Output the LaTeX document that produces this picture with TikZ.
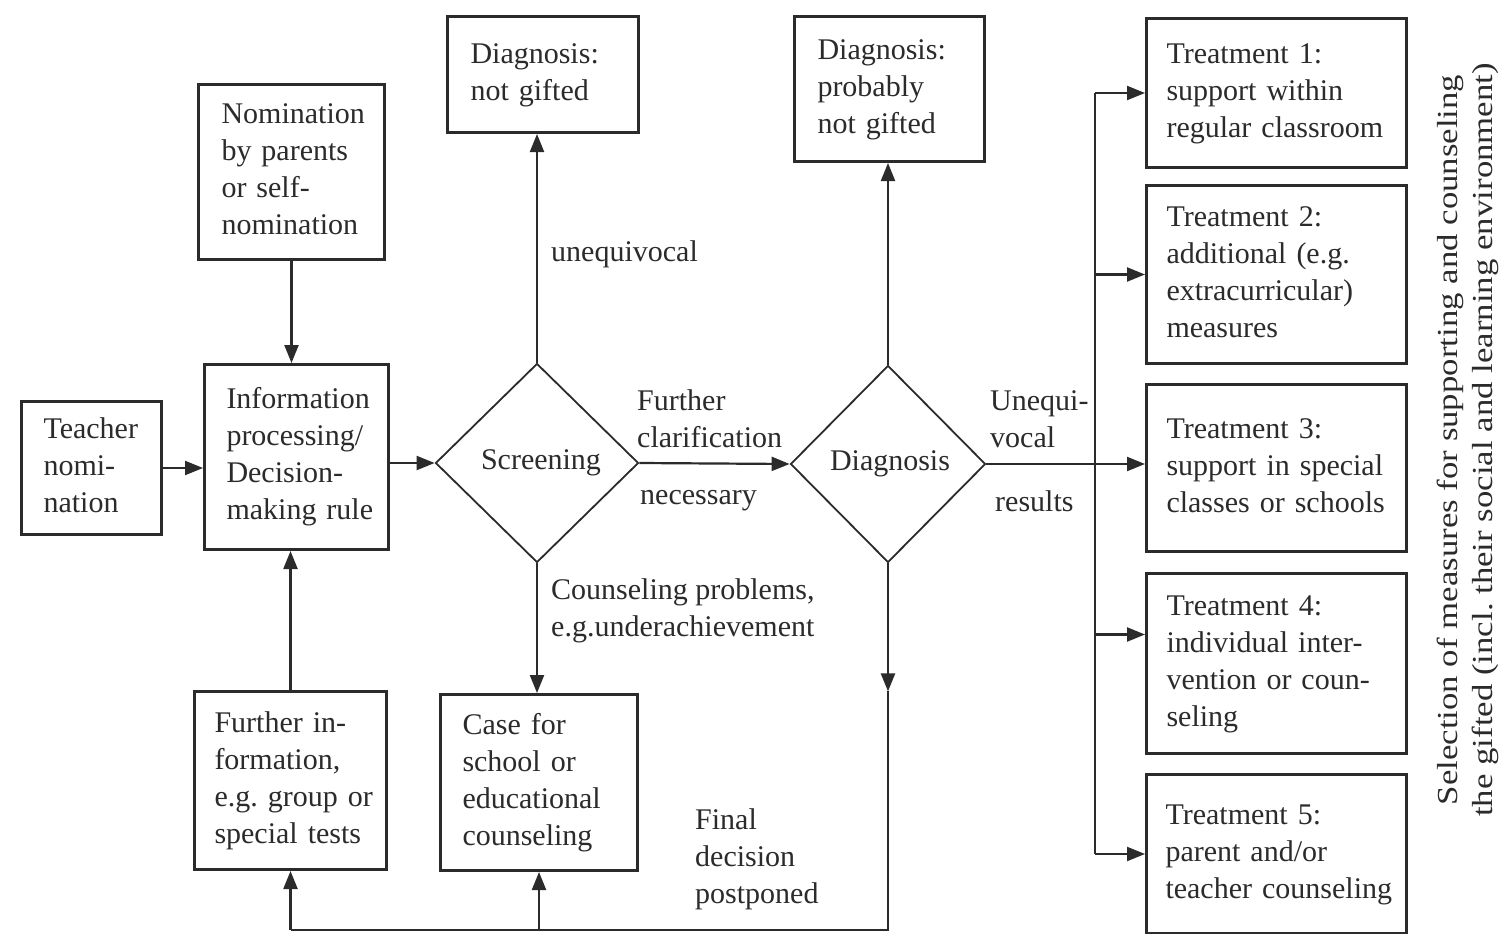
\documentclass[tikz,border=0pt]{standalone}
\usepackage{fontspec}
\setmainfont{Liberation Serif}
\usetikzlibrary{shapes.geometric,arrows.meta,calc}
\definecolor{ink}{gray}{0.17}
\newcommand\lines[1]{\begin{tabular}{@{}l@{}}#1\end{tabular}}
\frenchspacing
\begin{document}
\begin{tikzpicture}[x=1pt,y=-1pt,
  every node/.style={font=\fontsize{30}{37}\selectfont, text=ink},
  box/.style={draw=ink, line width=3pt, anchor=north west, align=left, inner xsep=0pt, inner ysep=0pt},
  dia/.style={diamond, draw=ink, line width=1.8pt, inner sep=0pt},
  lbl/.style={anchor=west, align=left, inner sep=0pt},
  ln/.style={draw=ink, line width=2.2pt, line join=miter},
  arr/.style={ln, -{Triangle[length=18pt,width=14pt]}}
]
\fill[white] (0,0) rectangle (1500,934);
\useasboundingbox (0,0) rectangle (1500,934);

% boxes
\node[box, minimum width=140pt, minimum height=133pt, text width=96pt] (teacher) at (20,400) {\lines{Teacher\\nomi-\\nation}};
\node[box, minimum width=184pt, minimum height=185pt, text width=140pt] (info) at (203,363) {\lines{Information\\processing/\\Decision-\\making rule}};
\node[box, minimum width=186pt, minimum height=175pt, text width=140pt] (nom) at (197,83) {\lines{Nomination\\by parents\\or self-\\nomination}};
\node[box, minimum width=191pt, minimum height=116pt, text width=145pt] (diag1) at (446,15) {\lines{Diagnosis:\\not gifted}};
\node[box, minimum width=190pt, minimum height=145pt, text width=144pt] (diag2) at (793,15) {\lines{Diagnosis:\\probably\\not gifted}};
\node[box, minimum width=192pt, minimum height=178pt, text width=152pt] (further) at (193,690) {\lines{Further in-\\formation,\\e.g.\ group or\\special tests}};
\node[box, minimum width=197pt, minimum height=176pt, text width=153pt] (case) at (439,693) {\lines{Case for\\school or\\educational\\counseling}};

\node[box, minimum width=260pt, minimum height=149pt, text width=220pt] (t1) at (1145,17) {\lines{Treatment 1:\\support within\\regular classroom}};
\node[box, minimum width=260pt, minimum height=178pt, text width=220pt] (t2) at (1145,184) {\lines{Treatment 2:\\additional (e.g.\\extracurricular)\\measures}};
\node[box, minimum width=260pt, minimum height=167pt, text width=220pt] (t3) at (1145,383) {\lines{Treatment 3:\\support in special\\classes or schools}};
\node[box, minimum width=260pt, minimum height=180pt, text width=220pt] (t4) at (1145,572) {\lines{Treatment 4:\\individual inter-\\vention or coun-\\seling}};
\node[box, minimum width=260pt, minimum height=159pt, text width=222pt] (t5) at (1145,773) {\lines{Treatment 5:\\parent and/or\\teacher counseling}};

% diamonds
\node[dia, minimum width=203pt, minimum height=199pt] (scr) at (537,463) {\raisebox{6pt}{\hspace{8pt}Screening}};
\node[dia, minimum width=195pt, minimum height=197pt] (diagn) at (888,464) {\raisebox{6pt}{\hspace{4pt}Diagnosis}};

% labels
\node[lbl] (lunq) at (551,254) {unequivocal};
\node[lbl] (lfur) at (637,419) {Further\\clarification};
\node[lbl] (lnec) at (640,501) {necessary};
\node[lbl] (luneq) at (990,419) {Unequi-\\vocal};
\node[lbl] (lres) at (995,501) {results};
\node[lbl] (lcou) at (551,611) {Counseling problems,\\e.g.underachievement};
\node[lbl] (lfin) at (695,859) {Final\\decision\\postponed};

% side text
\node[rotate=90, align=center, inner sep=0pt, font=\fontsize{29}{35}\selectfont] (side) at (1468,440)
  {\scalebox{1.2}[1]{Selection of measures for supporting and counseling}\\
   \scalebox{1.2}[1]{the gifted (incl. their social and learning environment)}};

% connectors
\draw[arr] (teacher.east) -- (teacher.east -| info.west);
\draw[arr] (nom.south) -- (nom.south |- info.north);
\draw[arr] (further.north) -- (further.north |- info.south);
\draw[arr] (scr.west -| info.east) -- (scr.west);
\draw[arr] (scr.north) -- (scr.north |- diag1.south);
\draw[arr] (scr.east) -- (diagn.west);
\draw[arr] (scr.south) -- (scr.south |- case.north);
\draw[arr] (diagn.north) -- (diagn.north |- diag2.south);
\draw[arr] (diagn.east) -- (diagn.east -| t3.west);

% bus to treatments
\coordinate (busx) at (1095,0);
\coordinate (t4in) at ($(t4.west)+(0,-29)$);
\draw[ln] (busx |- t1.west) -- (busx |- t5.west);
\draw[arr] (busx |- t1.west) -- (t1.west);
\draw[arr] (busx |- t2.west) -- (t2.west);
\draw[arr] (busx |- t4in) -- (t4in);
\draw[arr] (busx |- t5.west) -- (t5.west);

% bottom loop
\coordinate (ybot) at (0,930);
\coordinate (midarr) at ($(diagn.south)+(0,128)$);
\coordinate (loopR) at (diagn.south |- ybot);
\coordinate (loopL) at (further.south |- ybot);
\draw[arr] (diagn.south) -- (midarr);
\draw[ln] (midarr) -- (loopR) -- (loopL);
\draw[arr] (loopL) -- (further.south);
\draw[arr] (case.south |- ybot) -- (case.south);
\end{tikzpicture}
\end{document}
